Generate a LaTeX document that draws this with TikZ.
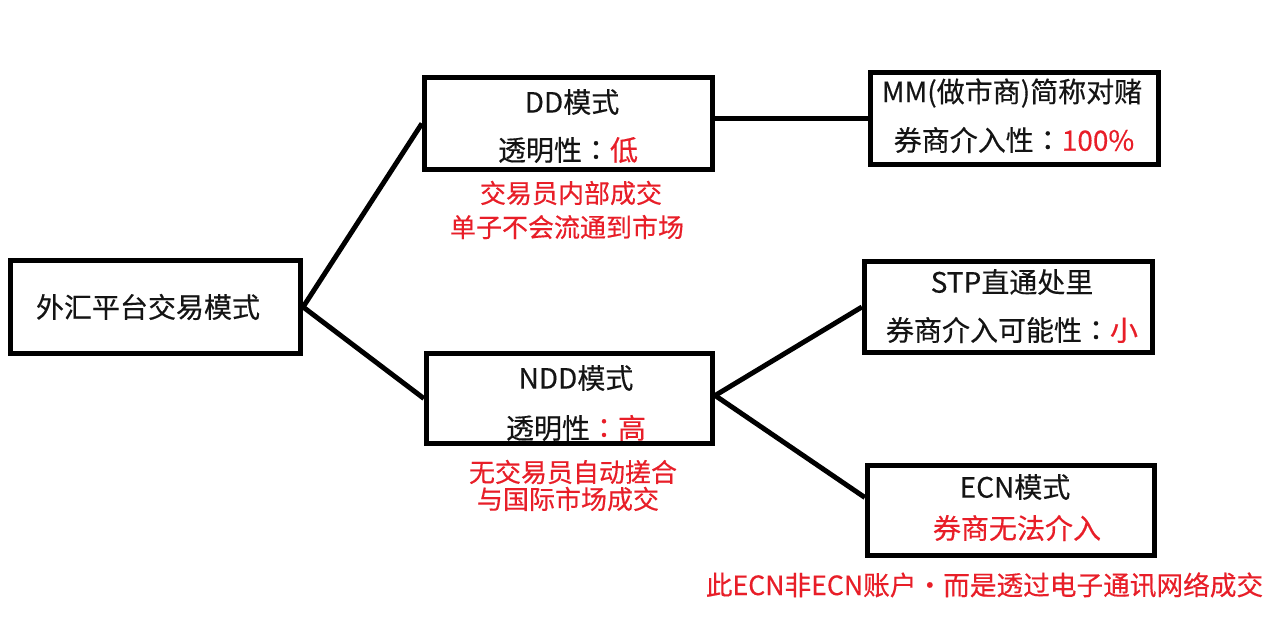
\documentclass[tikz,border=0pt]{standalone}
\usepackage{fontspec}
\newfontfamily\cjk[FakeBold=0.35]{Noto Sans CJK SC}
\newfontfamily\cjkcol[FakeBold=0.35]{Noto Sans CJK TC}
\usetikzlibrary{calc}
\definecolor{myred}{RGB}{232,30,40}
\definecolor{myblack}{RGB}{20,20,20}
\newcommand{\fcol}{{\cjkcol ：}}
\tikzset{
  box/.style={draw=black, line width=3.9pt, rectangle, inner sep=0pt, fill=white},
  link/.style={draw=black, line width=3.7pt},
  txt/.style={font=\cjk\fontsize{21pt}{24pt}\selectfont, text=myblack, inner sep=0pt, anchor=center},
  redtxt/.style={font=\cjk\fontsize{19.5pt}{22pt}\selectfont, text=myred, inner sep=0pt, anchor=center},
}
\begin{document}
\begin{tikzpicture}[x=0.75pt, y=-0.75pt]
\useasboundingbox[fill=white] (0,0) rectangle (1280,630);

% boxes
\node[box, minimum width=290*0.75pt, minimum height=93*0.75pt] (root) at (155.5,307) {};
\node[box, minimum width=288*0.75pt, minimum height=92*0.75pt] (dd) at (568.5,123.5) {};
\node[box, minimum width=288*0.75pt, minimum height=92*0.75pt] (mm) at (1014.5,118.5) {};
\node[box, minimum width=288*0.75pt, minimum height=91*0.75pt] (stp) at (1008.5,307) {};
\node[box, minimum width=286*0.75pt, minimum height=90*0.75pt] (ndd) at (569.5,398.5) {};
\node[box, minimum width=287*0.75pt, minimum height=90*0.75pt] (ecn) at (1011,510.5) {};

% connectors
\draw[link] (root.east) -- (dd.west);
\draw[link] (root.east) -- (ndd.west);
\draw[link] (mm.west) -- (mm.west -| dd.east);
\draw[link] ($(ndd.east)+(0,-3)$) -- (stp.west);
\draw[link] ($(ndd.east)+(0,-3)$) -- ($(ecn.west)+(0,-13)$);

% texts
\node[txt] (roott) at (148,307) {外汇平台交易模式};

\node[txt] (dd1) at (572,102) {DD模式};
\node[txt] (dd2) at (568,150) {透明性\fcol\textcolor{myred}{低}};
\node[redtxt] (ddr1) at (571,193) {交易员内部成交};
\node[redtxt] (ddr2) at (567,227) {单子不会流通到市场};

\node[txt] (mm1) at (1012,93) {MM(做市商)简称对赌};
\node[txt] (mm2) at (1014,140) {券商介入性\fcol\textcolor{myred}{100\%}};

\node[txt] (stp1) at (1012,282) {STP直通处里};
\node[txt] (stp2) at (1012,330) {券商介入可能性\fcol\textcolor{myred}{小}};

\node[txt] (ndd1) at (576,378) {NDD模式};
\node[txt] (ndd2) at (576,428) {透明性\textcolor{myred}{\fcol 高}};
\node[redtxt] (nddr1) at (573,472) {无交易员自动搓合};
\node[redtxt] (nddr2) at (568,499) {与国际市场成交};

\node[txt] (ecn1) at (1015,487) {ECN模式};
\node[txt, text=myred] (ecn2) at (1017,528) {券商无法介入};

\node[redtxt, font=\cjk\fontsize{20pt}{22pt}\selectfont] (foot) at (984.5,585) {此ECN非ECN账户・而是透过电子通讯网络成交};
\end{tikzpicture}
\end{document}
